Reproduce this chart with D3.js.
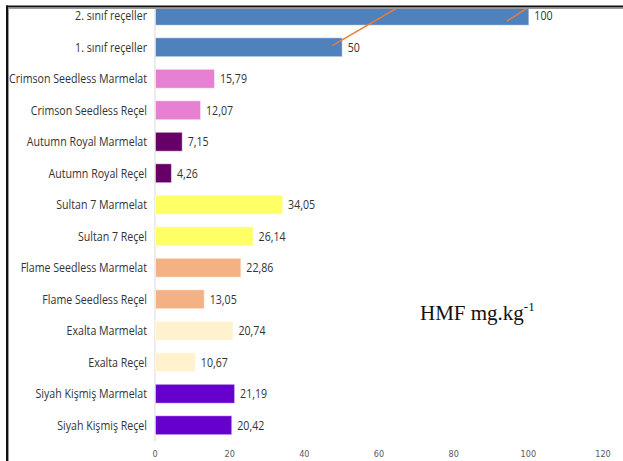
<!DOCTYPE html>
<html>
<head>
<meta charset="utf-8">
<script src="https://cdn.jsdelivr.net/npm/d3@7"></script>
<style>
  html, body { margin: 0; padding: 0; background: #fff; }
  svg { display: block; }
</style>
</head>
<body>
<svg id="chart" width="623" height="461"></svg>
<script>
// HMF content per product (mg/kg), top to bottom
const categories = [
  "2. sınıf reçeller",
  "1. sınıf reçeller",
  "Crimson Seedless Marmelat",
  "Crimson Seedless Reçel",
  "Autumn Royal Marmelat",
  "Autumn Royal Reçel",
  "Sultan 7 Marmelat",
  "Sultan 7 Reçel",
  "Flame Seedless Marmelat",
  "Flame Seedless Reçel",
  "Exalta Marmelat",
  "Exalta Reçel",
  "Siyah Kişmiş Marmelat",
  "Siyah Kişmiş Reçel"
];
const values = [100, 50, 15.79, 12.07, 7.15, 4.26, 34.05, 26.14, 22.86, 13.05, 20.74, 10.67, 21.19, 20.42];
const colors = [
  "#4F81BD", "#4F81BD",
  "#E680D2", "#E680D2",
  "#660066", "#660066",
  "#FFFF66", "#FFFF66",
  "#F4B183", "#F4B183",
  "#FFF2CC", "#FFF2CC",
  "#6600CC", "#6600CC"
];
const xTicks = [0, 20, 40, 60, 80, 100, 120];
// label leader lines: [value, row position] pairs
const leaderLines = [
  [[47.5, 0.95], [70.8, -0.66]],
  [[94.3, 0.167], [105.2, -0.66]]
];
const unitLabel = "HMF mg.kg";
const unitExp = "-1";

const svg = d3.select("#chart");
const W = 623, H = 461;
const labelFont = "'Open Sans', Lato, sans-serif";
const labelSize = 12.5;

const x = d3.scaleLinear().domain([0, 120]).range([155, 603]);
const y = d3.scaleBand().domain(categories).range([0, 441])
  .paddingInner(0.4).paddingOuter(0.2);
const rowY = d3.scaleLinear().domain([0, 1])
  .range([y(categories[0]) + y.bandwidth() / 2, y(categories[1]) + y.bandwidth() / 2]);

const trLocale = d3.formatLocale({ decimal: ",", thousands: ".", grouping: [3], currency: ["", ""] });
const fmt2 = trLocale.format(".2f");
const fmtLabel = v => Number.isInteger(v) ? String(v) : fmt2(v);

// narrow the glyphs so the longest category fits the left margin
function condense(sel, k) {
  sel.each(function () {
    const w = this.getComputedTextLength();
    d3.select(this).attr("textLength", w * k).attr("lengthAdjust", "spacingAndGlyphs");
  });
}

svg.append("defs").append("clipPath").attr("id", "plotClip")
  .append("rect").attr("x", 9).attr("y", 8).attr("width", W).attr("height", H);

const plot = svg.append("g").attr("clip-path", "url(#plotClip)");

// vertical axis line
plot.append("line")
  .attr("x1", x(0)).attr("x2", x(0))
  .attr("y1", 8).attr("y2", 441.5)
  .attr("stroke", "#d9d9d9").attr("stroke-width", 1);

// bars
plot.selectAll("rect.bar").data(categories).join("rect")
  .attr("class", "bar")
  .attr("x", x(0) + 0.5)
  .attr("y", d => y(d))
  .attr("width", (d, i) => x(values[i]) - x(0))
  .attr("height", y.bandwidth())
  .attr("fill", (d, i) => colors[i])
  .attr("stroke", "rgba(255,255,255,0.45)")
  .attr("stroke-width", 1);

// category labels
const cats = svg.selectAll("text.cat").data(categories).join("text")
  .attr("class", "cat")
  .attr("x", 147)
  .attr("y", d => y(d) + y.bandwidth() / 2)
  .attr("dy", "0.36em")
  .attr("text-anchor", "end")
  .attr("font-family", labelFont)
  .attr("font-size", labelSize)
  .attr("fill", "#333")
  .text(d => d);
const widest = d3.max(cats.nodes(), n => n.getComputedTextLength());
const squeeze = 138 / widest;
condense(cats, squeeze);

// value labels
const vals = plot.selectAll("text.val").data(categories).join("text")
  .attr("class", "val")
  .attr("x", (d, i) => x(values[i]) + 6)
  .attr("y", d => y(d) + y.bandwidth() / 2)
  .attr("dy", "0.36em")
  .attr("font-family", labelFont)
  .attr("font-size", labelSize)
  .attr("fill", "#333")
  .text((d, i) => fmtLabel(values[i]));
condense(vals, squeeze);

// leader lines
const lineGen = d3.line().x(p => x(p[0])).y(p => rowY(p[1]));
plot.selectAll("path.leader").data(leaderLines).join("path")
  .attr("class", "leader")
  .attr("d", lineGen)
  .attr("fill", "none")
  .attr("stroke", "#ED7D31")
  .attr("stroke-width", 1.5);

// x tick labels
svg.selectAll("text.tick").data(xTicks).join("text")
  .attr("class", "tick")
  .attr("x", d => x(d))
  .attr("y", 456.5)
  .attr("text-anchor", "middle")
  .attr("font-family", "'DejaVu Sans Condensed', Lato, sans-serif")
  .attr("font-size", 9)
  .attr("fill", "#595959")
  .text(d => d);

// unit annotation
const unit = svg.append("text")
  .attr("x", 420).attr("y", 320)
  .attr("font-family", "'Liberation Serif', 'Times New Roman', serif")
  .attr("font-size", 21)
  .attr("fill", "#111");
unit.append("tspan").text(unitLabel);
unit.append("tspan").attr("font-size", 13).attr("dy", -9).text(unitExp);

// frame
svg.append("line").attr("x1", 6).attr("x2", W).attr("y1", 6.5).attr("y2", 6.5)
  .attr("stroke", "#111").attr("stroke-width", 2);
svg.append("line").attr("x1", 8).attr("x2", W).attr("y1", 8.5).attr("y2", 8.5)
  .attr("stroke", "#9a9a9a").attr("stroke-width", 1);
svg.append("line").attr("x1", 7).attr("x2", 7).attr("y1", 5.5).attr("y2", H)
  .attr("stroke", "#111").attr("stroke-width", 2);
svg.append("line").attr("x1", 8.5).attr("x2", 8.5).attr("y1", 8).attr("y2", H)
  .attr("stroke", "#9a9a9a").attr("stroke-width", 1);
</script>
</body>
</html>
